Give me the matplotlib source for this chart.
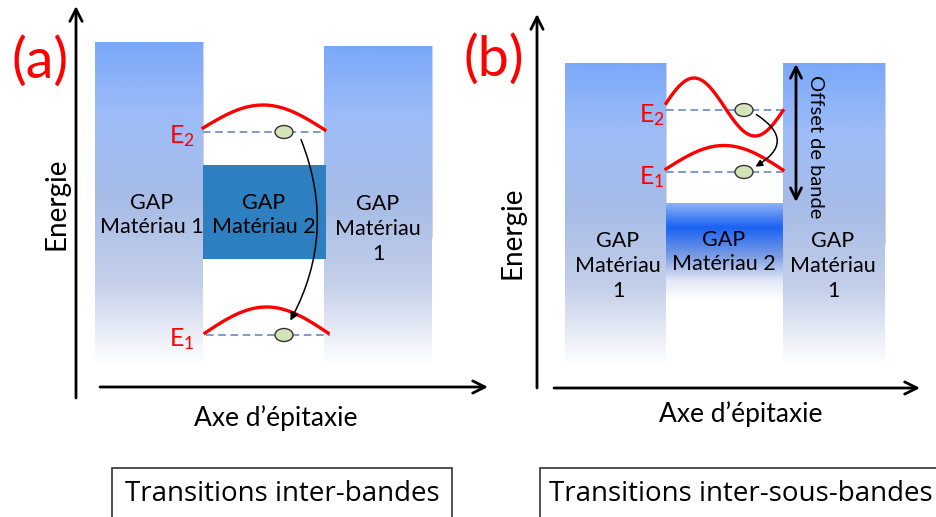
import matplotlib
matplotlib.use("Agg")
import matplotlib.pyplot as plt
import numpy as np
from matplotlib import font_manager
from matplotlib.colors import LinearSegmentedColormap
from matplotlib.patches import Ellipse, FancyArrowPatch, Rectangle

# ---- content -------------------------------------------------------------
panel_labels = ["(a)", "(b)"]
box_titles = ["Transitions inter-bandes", "Transitions inter-sous-bandes"]
axis_y_label = "Energie"
axis_x_label = "Axe d\u2019\u00e9pitaxie"
barrier_text = ["GAP\nMat\u00e9riau 1", "GAP\nMat\u00e9riau\n1"]
barrier_text_b = "GAP\nMat\u00e9riau\n1"
well_text = "GAP\nMat\u00e9riau 2"
level_names = ["E$\\mathregular{_1}$", "E$\\mathregular{_2}$"]
offset_label = "Offset de bande"

installed = {f.name for f in font_manager.fontManager.ttflist}
MAIN = ["Lato", "DejaVu Sans"]
NARROW = (["Liberation Sans Narrow", "DejaVu Sans"]
          if "Liberation Sans Narrow" in installed else ["Open Sans", "DejaVu Sans"])
plt.rcParams["font.family"] = MAIN

RED = "#ff0000"
DASH = "#5b80b8"
ELEC_FC = "#d5e3b8"

barrier_cmap = LinearSegmentedColormap.from_list(
    "barrier", [(0.0, "#7aa8f8"), (0.22, "#9dbcf8"), (0.5, "#a8bde6"),
                (0.75, "#c5d0ea"), (0.92, "#edf0f8"), (1.0, "#ffffff")])
well_b_cmap = LinearSegmentedColormap.from_list(
    "well_b", [(0.0, "#8cb3f8"), (0.25, "#1a62f2"), (0.55, "#7c9de3"),
               (0.8, "#e2e8f6"), (1.0, "#ffffff")])

fig = plt.figure(figsize=(9.36, 5.17), dpi=100)
ax = fig.add_axes([0, 0, 1, 1])


def gradient_box(x0, x1, ytop, ybot, cmap):
    grad = np.linspace(0, 1, 256).reshape(-1, 1)
    ax.imshow(grad, cmap=cmap, aspect="auto", origin="upper",
              extent=(x0, x1, ybot, ytop), interpolation="bilinear", zorder=1)
    # faint shadow on the right edge
    ax.plot([x1, x1], [ytop, ytop + (ybot - ytop) * 0.6], color="#b8bcc8",
            lw=0.8, alpha=0.6, zorder=1)


def axis_arrow(x0, y0, x1, y1):
    ax.annotate("", xy=(x1, y1), xytext=(x0, y0),
                arrowprops=dict(arrowstyle="->", lw=2, color="black",
                                mutation_scale=22, shrinkA=0, shrinkB=0))


def electron(x, y):
    ax.add_patch(Ellipse((x, y), 18, 13, facecolor=ELEC_FC,
                         edgecolor="#333333", lw=1.0, zorder=5))


def level_line(x0, x1, y):
    ax.plot([x0, x1], [y, y], color=DASH, lw=1.1, ls=(0, (5, 3)), zorder=3)


def arc(x0, x1, y0, y1, h):
    t = np.linspace(0, 1, 80)
    ax.plot(x0 + (x1 - x0) * t, y0 + (y1 - y0) * t - h * np.sin(np.pi * t),
            color=RED, lw=2.4, zorder=4)


def curved_arrow(p0, p1, rad, ms=12):
    ax.add_patch(FancyArrowPatch(p0, p1, connectionstyle=f"arc3,rad={rad}",
                                 arrowstyle="-|>", mutation_scale=ms,
                                 lw=1.1, color="black", zorder=6))


# ================= panel (a) =================
gradient_box(95, 203, 42, 365, barrier_cmap)
gradient_box(324, 432, 46, 365, barrier_cmap)
ax.add_patch(Rectangle((203, 165), 123, 94, facecolor="#2e7fbf",
                       edgecolor="none", zorder=2))

axis_arrow(76, 398, 76, 6)
axis_arrow(100, 387, 488, 387)

ax.text(40, 62, panel_labels[0], color=RED, fontsize=40, ha="center", va="center")
ax.text(56, 204, axis_y_label, rotation=90, fontsize=20, ha="center", va="center")
ax.text(276, 418, axis_x_label, fontsize=19, ha="center", va="center")

ax.text(152, 215, barrier_text[0], fontsize=15.5, ha="center", va="center",
        linespacing=1.3, zorder=7)
ax.text(264, 215, well_text, fontsize=15.5, ha="center", va="center",
        linespacing=1.3, zorder=7)
ax.text(378, 229, barrier_text[1], fontsize=15.5, ha="center", va="center",
        linespacing=1.3, zorder=7)

level_line(203, 326, 132)
level_line(206, 330, 335)
arc(203, 325, 128, 130, 24)
arc(205, 328, 333, 333, 26)
electron(284, 132)
electron(284, 335)
ax.text(182, 136, level_names[1], color=RED, fontsize=18, ha="center", va="center")
ax.text(182, 339, level_names[0], color=RED, fontsize=18, ha="center", va="center")
curved_arrow((300, 137), (289, 323), -0.24)

# ================= panel (b) =================
gradient_box(565, 666, 63, 365, barrier_cmap)
gradient_box(783, 885, 63, 365, barrier_cmap)
gradient_box(666, 783, 203, 300, well_b_cmap)

axis_arrow(537, 388, 537, 14)
axis_arrow(554, 388, 920, 388)

ax.text(494, 60, panel_labels[1], color=RED, fontsize=40, ha="center", va="center")
ax.text(513, 233, axis_y_label, rotation=90, fontsize=20, ha="center", va="center")
ax.text(741, 414, axis_x_label, fontsize=19, ha="center", va="center")

ax.text(618, 266, barrier_text_b, fontsize=15.5, ha="center", va="center",
        linespacing=1.3, zorder=7)
ax.text(724, 252, well_text, fontsize=15.5, ha="center", va="center",
        linespacing=1.3, zorder=7)
ax.text(833, 266, barrier_text_b, fontsize=15.5, ha="center", va="center",
        linespacing=1.3, zorder=7)

level_line(666, 783, 110)
level_line(666, 783, 172)
t = np.linspace(0, 1, 120)
ax.plot(666 + 117 * t, 107 - 29 * np.sin(2 * np.pi * (0.96 * t + 0.02)),
        color=RED, lw=2.4, zorder=4)
arc(666, 783, 169, 170, 24)
electron(744, 110)
electron(744, 172)
ax.text(652, 115, level_names[1], color=RED, fontsize=18, ha="center", va="center")
ax.text(652, 177, level_names[0], color=RED, fontsize=18, ha="center", va="center")
curved_arrow((754, 113), (753, 168), -0.85, ms=10)

ax.annotate("", xy=(796, 202), xytext=(796, 64),
            arrowprops=dict(arrowstyle="<->", lw=2, color="black",
                            mutation_scale=20, shrinkA=0, shrinkB=0), zorder=6)
ax.text(816, 147, offset_label, rotation=-90, fontsize=14.5, ha="center",
        va="center", zorder=7)

# ================= caption boxes =================
ax.add_patch(Rectangle((112, 468), 340, 60, facecolor="white",
                       edgecolor="#333333", lw=1.2, zorder=2))
ax.add_patch(Rectangle((540, 468), 420, 60, facecolor="white",
                       edgecolor="#333333", lw=1.2, zorder=2))
ax.text(282, 494, box_titles[0], fontsize=20, ha="center", va="center",
        family=NARROW, zorder=3)
ax.text(741, 494, box_titles[1], fontsize=20, ha="center", va="center",
        family=NARROW, zorder=3)

ax.set_xlim(0, 936)
ax.set_ylim(517, 0)
ax.axis("off")
fig.savefig("out.png", dpi=100)
